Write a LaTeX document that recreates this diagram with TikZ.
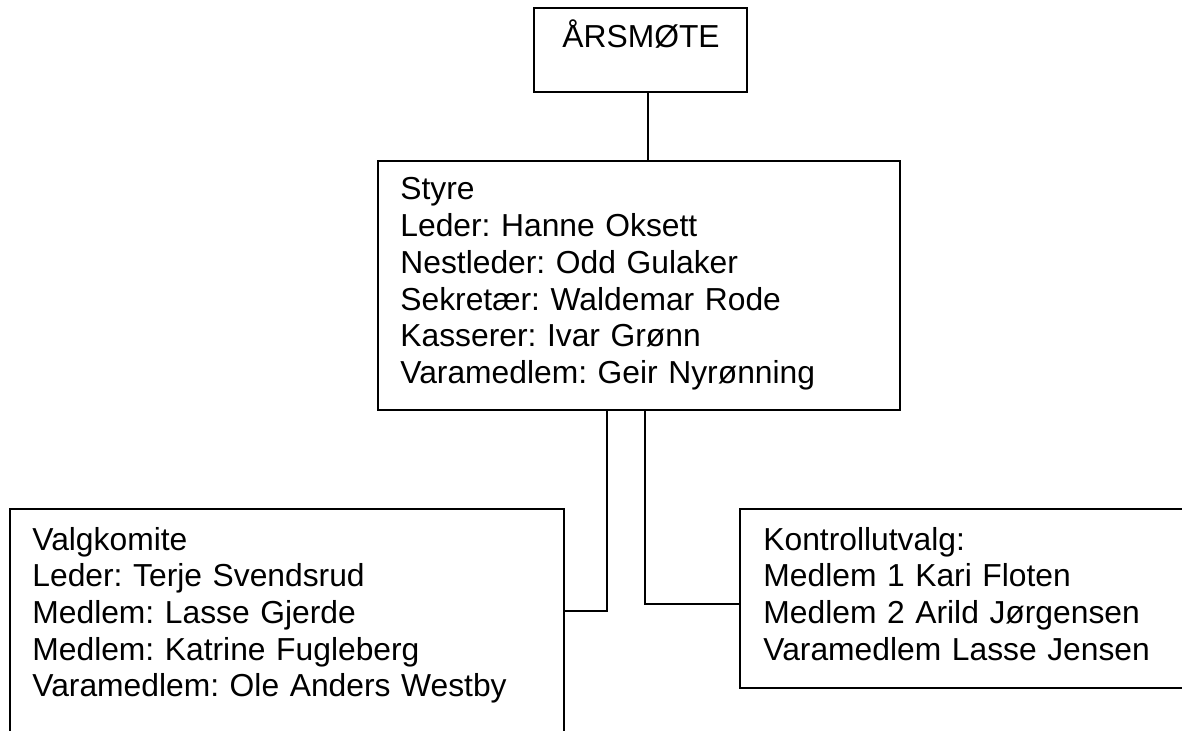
\documentclass[tikz,border=0pt]{standalone}
\usepackage{fontspec}
\setmainfont{Liberation Sans}
\frenchspacing
\begin{document}
\begin{tikzpicture}[x=0.5pt,y=-0.5pt,
  boxnode/.style={draw=black, line width=0.9pt, rectangle, inner sep=0pt},
  txt/.style={anchor=base west, inner sep=0pt, text width=280pt, align=left,
    font=\fontsize{15.9pt}{18.35pt}\selectfont\frenchspacing},
  conn/.style={draw=black, line width=0.9pt}]
\useasboundingbox (0,0) rectangle (1182,731);
\clip (0,0) rectangle (1182,731);
% boxes
\node[boxnode, minimum width=106.5pt, minimum height=42pt] (ars) at (640.5,50) {};
\node[boxnode, minimum width=261pt, minimum height=124.5pt] (styre) at (639,285.5) {};
\node[boxnode, minimum width=277pt, minimum height=125.5pt] (valg) at (287,634.5) {};
\node[boxnode, minimum width=235pt, minimum height=89.5pt] (kontroll) at (975,598.5) {};
% texts
\node[txt] (arstxt) at (562,48) {ÅRSMØTE};
\node[txt] (styretxt) at (400,200) {Styre\\Leder: Hanne Oksett\\Nestleder: Odd Gulaker\\Sekretær: Waldemar Rode\\Kasserer: Ivar Grønn\\Varamedlem: Geir Nyrønning};
\node[txt] (valgtxt) at (32,550) {Valgkomite\\Leder: Terje Svendsrud\\Medlem: Lasse Gjerde\\Medlem: Katrine Fugleberg\\Varamedlem: Ole Anders Westby};
\node[txt] (kontrolltxt) at (763,550) {Kontrollutvalg:\\Medlem 1 Kari Floten\\Medlem 2 Arild Jørgensen\\Varamedlem Lasse Jensen};
% connector coordinates
\coordinate (c0) at (648,0);
\coordinate (k1) at (607,611);
\coordinate (k2) at (645,604);
% connectors
\draw[conn] (ars.south -| c0) -- (styre.north -| c0);
\draw[conn] (styre.south -| k1) -- (k1) -- (k1 -| valg.east);
\draw[conn] (styre.south -| k2) -- (k2) -- (k2 -| kontroll.west);
\end{tikzpicture}
\end{document}
